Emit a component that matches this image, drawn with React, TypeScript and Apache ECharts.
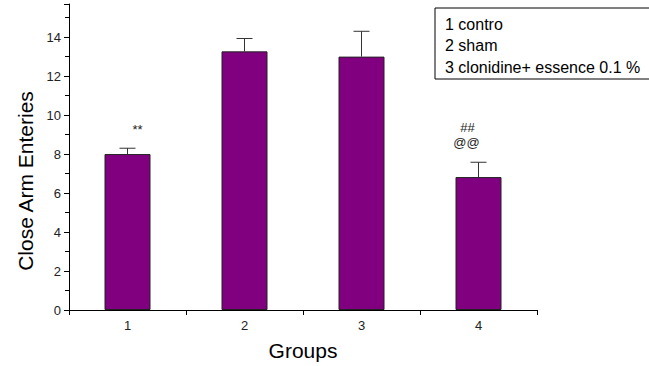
import React, { useEffect, useRef } from "react";
import * as echarts from "echarts";

const groups = ["1", "2", "3", "4"];
const means = [8.0, 13.27, 13.0, 6.82];
const errors = [0.3, 0.66, 1.3, 0.76];
const annotationGroups = [0, 3, 3];
const annotationValues = [9.25, 9.35, 8.6];
const annotationTexts = ["**", "##", "@@"];
const legendLines = ["1 contro", "2 sham", "3 clonidine+ essence 0.1 %"];

const FONT = "Liberation Sans, Arial, sans-serif";
const annotationDx = [10, -11, -12];

export default function App() {
  const ref = useRef<HTMLDivElement>(null);
  useEffect(() => {
    if (!ref.current) return;
    const chart = echarts.init(ref.current, undefined, { renderer: "svg" });
    chart.setOption({
      animation: false,
      backgroundColor: "#ffffff",
      textStyle: { fontFamily: FONT },
      grid: { left: 69, right: 112, top: 4, bottom: 55, containLabel: false },
      xAxis: {
        type: "category",
        data: groups,
        boundaryGap: true,
        name: "Groups",
        nameLocation: "middle",
        nameGap: 30,
        nameTextStyle: { fontSize: 21, color: "#000", fontFamily: FONT },
        axisLine: { lineStyle: { color: "#000", width: 1 } },
        axisTick: { show: true, length: 5, lineStyle: { color: "#000" } },
        axisLabel: { fontSize: 13, color: "#222", margin: 9, fontFamily: FONT },
      },
      yAxis: {
        type: "value",
        min: 0,
        max: 15.7,
        interval: 2,
        axisLine: { show: true, lineStyle: { color: "#000", width: 1 } },
        axisTick: { show: true, length: 5, lineStyle: { color: "#000" } },
        minorTick: { show: true, splitNumber: 2, length: 4, lineStyle: { color: "#000" } },
        splitLine: { show: false },
        axisLabel: { fontSize: 13, color: "#222", margin: 8, fontFamily: FONT, showMaxLabel: false },
      },
      series: [
        {
          type: "bar",
          data: means,
          barWidth: 46,
          itemStyle: { color: "#800080", borderColor: "#222", borderWidth: 1 },
          z: 2,
        },
        {
          type: "custom",
          z: 3,
          data: means.map((m, i) => [i, m, m + errors[i]]),
          renderItem: (params: any, api: any) => {
            const x = api.value(0);
            const base = api.coord([x, api.value(1)]);
            const top = api.coord([x, api.value(2)]);
            const hw = 8;
            return {
              type: "group",
              children: [
                {
                  type: "line",
                  shape: { x1: base[0], y1: base[1], x2: top[0], y2: top[1] },
                  style: { stroke: "#333", lineWidth: 1 },
                },
                {
                  type: "line",
                  shape: { x1: top[0] - hw, y1: top[1], x2: top[0] + hw, y2: top[1] },
                  style: { stroke: "#333", lineWidth: 1 },
                },
              ],
            };
          },
        },
        {
          type: "custom",
          z: 4,
          data: annotationGroups.map((g, i) => [g, annotationValues[i]]),
          renderItem: (params: any, api: any) => {
            const p = api.coord([api.value(0), api.value(1)]);
            return {
              type: "text",
              x: p[0] + annotationDx[params.dataIndex],
              y: p[1],
              style: {
                text: annotationTexts[params.dataIndex],
                fontSize: 13,
                fontFamily: FONT,
                fill: "#222",
                align: "center",
                verticalAlign: "middle",
              },
            };
          },
        },
      ],
      graphic: [
        {
          type: "text",
          x: 25,
          y: 181,
          rotation: Math.PI / 2,
          style: {
            text: "Close Arm Enteries",
            fontSize: 21,
            fontFamily: FONT,
            fill: "#000",
            align: "center",
            verticalAlign: "middle",
          },
        },
        {
          type: "rect",
          shape: { x: 435, y: 8, width: 230, height: 71 },
          style: { fill: "#fff", stroke: "#000", lineWidth: 1 },
          z: 10,
        },
        ...legendLines.map((t, i) => ({
          type: "text",
          x: 445,
          y: 24 + i * 21.5,
          z: 11,
          style: {
            text: t,
            fontSize: 16,
            fontFamily: FONT,
            fill: "#000",
            verticalAlign: "middle",
          },
        })),
      ],
    });
    return () => chart.dispose();
  }, []);
  return <div ref={ref} style={{ width: 649, height: 366, position: "absolute", left: 0, top: 0 }} />;
}
